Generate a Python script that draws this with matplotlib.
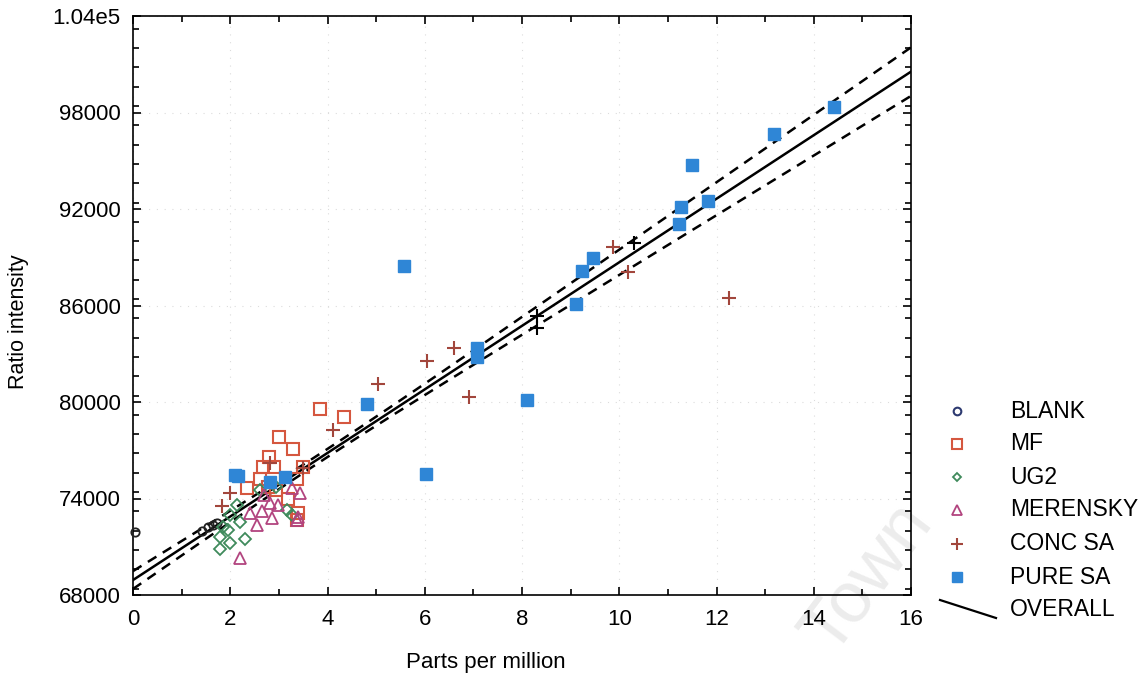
import numpy as np
import matplotlib
matplotlib.use("Agg")
import matplotlib.pyplot as plt
from matplotlib.ticker import MultipleLocator, FixedLocator, FuncFormatter

plt.rcParams['font.family'] = ['Liberation Sans', 'DejaVu Sans']

# ---------------- data ----------------
blank_x = [0.04, 1.41, 1.55, 1.65, 1.72]
blank_y = [71900, 72000, 72250, 72350, 72460]

mf_x = [3.85, 4.33, 3.01, 3.30, 2.80, 2.68, 2.89, 3.50, 2.61, 2.34, 3.37, 3.19, 3.40, 3.37, 2.78, 2.95]
mf_y = [79550, 79050, 77800, 77080, 76560, 75940, 75940, 75940, 75210, 74670, 75210, 73970, 73080, 72660, 74730, 74530]

ug2_x = [2.13, 2.00, 2.20, 1.86, 1.79, 1.96, 2.00, 1.79, 2.30, 3.16, 3.27, 2.95, 2.62]
ug2_y = [73600, 72970, 72560, 72250, 71630, 72040, 71220, 70860, 71460, 73290, 72970, 74720, 74500]

mer_x = [2.20, 2.54, 2.65, 2.85, 2.41, 2.99, 3.26, 3.43, 3.37, 2.82, 3.40, 2.70]
mer_y = [70280, 72350, 73240, 72770, 73080, 73600, 74630, 74360, 72660, 73740, 72870, 74200]

conc_x = [1.83, 2.00, 2.82, 3.50, 4.11, 5.04, 6.04, 6.60, 6.91, 9.87, 10.18, 12.26]
conc_y = [73530, 74320, 76190, 75900, 78260, 81150, 82570, 83380, 80290, 89620, 88060, 86450]

dark_plus_x = [8.30, 8.30, 10.30]
dark_plus_y = [85350, 84580, 89890]

pure_x = [2.10, 2.16, 2.82, 3.13, 4.81, 5.57, 6.03, 7.07, 7.07, 8.10, 9.11, 9.23, 9.46,
          11.23, 11.27, 11.50, 11.83, 13.18, 14.42]
pure_y = [75460, 75400, 75030, 75340, 79880, 88460, 75520, 83360, 82820, 80120, 86090, 88150, 88950,
          91070, 92130, 94740, 92500, 96660, 98340]

# overall regression line (end values) and confidence-band parameters
fit_x = [0.0, 16.0]
fit_y = [68930.0, 100540.0]
band_center_x = 4.0
band_min_halfwidth = 250.0
band_growth = 124.0

x_ticks = [0, 2, 4, 6, 8, 10, 12, 14, 16]
y_ticks = [68000, 74000, 80000, 86000, 92000, 98000, 104000]
y_tick_labels = ['68000', '74000', '80000', '86000', '92000', '98000', '1.04e5']

legend_labels = ['BLANK', 'MF', 'UG2', 'MERENSKY', 'CONC SA', 'PURE SA', 'OVERALL']

# ---------------- colours ----------------
c_blank = '#2d3a70'
c_mf = '#d5573f'
c_ug2 = '#3f8a5c'
c_mer = '#b2447f'
c_conc = '#a2463c'
c_pure = '#2f86d6'

W, H = 1148, 674
fig = plt.figure(figsize=(W / 100, H / 100), dpi=100)

# overlay for legend / watermark (behind the main axes)
ov = fig.add_axes([0, 0, 1, 1], zorder=-1)
ov.set_xlim(0, W)
ov.set_ylim(H, 0)
ov.axis('off')

ov.text(868, 578, 'Town', fontsize=52, color='#ececec', rotation=53,
        ha='center', va='center')

left, right, top, bottom = 133, 911, 16, 595
ax = fig.add_axes([left / W, 1 - bottom / H, (right - left) / W, (bottom - top) / H])
ax.set_facecolor('none')

ax.set_xlim(0, 16)
ax.set_ylim(68000, 104000)

# faint dotted grid
ax.grid(True, which='major', color='#dcdcdc', linestyle=(0, (1, 6)), linewidth=0.8)
ax.set_axisbelow(True)

# regression line and confidence band
xx = np.linspace(fit_x[0], fit_x[1], 200)
slope = (fit_y[1] - fit_y[0]) / (fit_x[1] - fit_x[0])
yy = fit_y[0] + slope * (xx - fit_x[0])
hw = np.sqrt(band_min_halfwidth ** 2 + (band_growth * (xx - band_center_x)) ** 2)
ax.plot(xx, yy, color='black', lw=1.8, zorder=3)
ax.plot(xx, yy + hw, color='black', lw=1.8, ls=(0, (4, 3)), zorder=3)
ax.plot(xx, yy - hw, color='black', lw=1.8, ls=(0, (4, 3)), zorder=3)

# points
ax.plot(blank_x, blank_y, 'o', ms=6, mfc='none', mec='#222222', mew=1.3, zorder=4, clip_on=False)
ax.plot(mf_x, mf_y, 's', ms=8, mfc='none', mec=c_mf, mew=1.5, zorder=4)
ax.plot(ug2_x, ug2_y, 'D', ms=6.3, mfc='none', mec=c_ug2, mew=1.3, zorder=4)
ax.plot(mer_x, mer_y, '^', ms=8, mfc='none', mec=c_mer, mew=1.3, zorder=4)
ax.plot(conc_x, conc_y, '+', ms=10, mec=c_conc, mew=1.5, zorder=4)
ax.plot(dark_plus_x, dark_plus_y, '+', ms=10, mec='black', mew=1.5, zorder=4)
ax.plot(pure_x, pure_y, 's', ms=8.5, mfc=c_pure, mec=c_pure, zorder=5)

# ticks
ax.xaxis.set_major_locator(FixedLocator(x_ticks))
ax.xaxis.set_minor_locator(MultipleLocator(1))
ax.yaxis.set_major_locator(FixedLocator(y_ticks))
ax.yaxis.set_minor_locator(MultipleLocator(1200))
ax.yaxis.set_major_formatter(FuncFormatter(lambda v, p: y_tick_labels[y_ticks.index(int(round(v)))]
                                           if int(round(v)) in y_ticks else ''))
ax.tick_params(which='both', direction='in', top=True, right=True, labelsize=16, width=1.2)
ax.tick_params(which='major', length=6)
ax.tick_params(axis='x', which='major', pad=10)
ax.tick_params(axis='y', which='major', pad=9)
ax.tick_params(which='minor', length=4)
for s in ax.spines.values():
    s.set_linewidth(1.2)

ax.set_xlabel('Parts per million', fontsize=16)
ax.set_ylabel('Ratio intensity', fontsize=15.5)
ax.xaxis.set_label_coords((486 - left) / (right - left), -(652 - bottom) / (bottom - top))
ax.yaxis.set_label_coords(-(left - 29) / (right - left), (bottom - 322) / (bottom - top))

# manual legend
lx, tx = 957, 1010
rows = [411, 444, 477, 510, 544, 577, 610]
ov.plot([lx], [rows[0]], 'o', ms=5.5, mfc='none', mec=c_blank, mew=1.5)
ov.plot([lx], [rows[1]], 's', ms=7, mfc='none', mec=c_mf, mew=1.5)
ov.plot([lx], [rows[2]], 'D', ms=4.5, mfc='none', mec=c_ug2, mew=1.3)
ov.plot([lx], [rows[3]], '^', ms=7, mfc='none', mec=c_mer, mew=1.3)
ov.plot([lx], [rows[4]], '+', ms=9, mec=c_conc, mew=1.5)
ov.plot([lx], [rows[5]], 's', ms=7, mfc=c_pure, mec=c_pure)
ov.plot([940, 996], [600, 618], color='black', lw=1.6)
for lab, r in zip(legend_labels, rows):
    ov.text(tx, r, lab, fontsize=16.5, ha='left', va='center')

fig.savefig('out.png', dpi=100)
